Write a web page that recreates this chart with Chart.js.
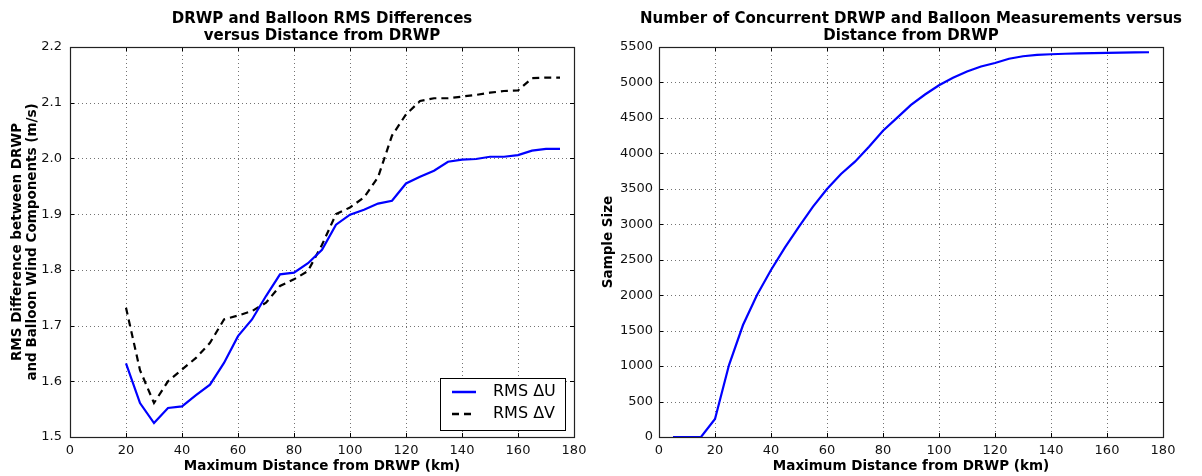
<!DOCTYPE html>
<html>
<head>
<meta charset="utf-8">
<script src="https://cdn.jsdelivr.net/npm/chart.js@4.4.0/dist/chart.umd.min.js"></script>
<style>
  html, body { margin: 0; padding: 0; background: #fff; }
  #wrap { position: relative; width: 1202px; height: 476px; overflow: hidden; }
  canvas { position: absolute; top: 0; }
</style>
</head>
<body>
<div id="wrap">
  <canvas id="left" width="600" height="476" style="left:0px"></canvas>
  <canvas id="right" width="602" height="476" style="left:600px"></canvas>
</div>
<script>
// ---- data ----
const distLeft = [20,25,30,35,40,45,50,55,60,65,70,75,80,85,90,95,100,105,110,115,120,125,130,135,140,145,150,155,160,165,170,175];
const rmsU = [1.632,1.561,1.525,1.552,1.555,1.575,1.594,1.633,1.681,1.711,1.753,1.792,1.795,1.812,1.836,1.881,1.899,1.908,1.919,1.924,1.955,1.967,1.978,1.994,1.998,1.999,2.003,2.003,2.006,2.014,2.017,2.017];
const rmsV = [1.732,1.620,1.561,1.600,1.621,1.642,1.669,1.711,1.718,1.726,1.741,1.771,1.783,1.798,1.845,1.900,1.912,1.930,1.966,2.041,2.079,2.103,2.108,2.108,2.111,2.114,2.118,2.121,2.122,2.144,2.145,2.145];

const distRight = [5,10,15,20,25,30,35,40,45,50,55,60,65,70,75,80,85,90,95,100,105,110,115,120,125,130,135,140,145,150,155,160,165,170,175];
const sampleSize = [0,0,0,254,1015,1579,2003,2355,2675,2966,3248,3497,3709,3883,4094,4320,4500,4684,4830,4960,5065,5155,5225,5275,5335,5370,5388,5398,5405,5410,5413,5418,5422,5425,5426];

const leftTitle = ["DRWP and Balloon RMS Differences", "versus Distance from DRWP"];
const rightTitle = ["Number of Concurrent DRWP and Balloon Measurements versus", "Distance from DRWP"];
const xAxisTitle = "Maximum Distance from DRWP (km)";
const leftYTitle = ["RMS Difference between DRWP", "and Balloon Wind Components (m/s)"];
const rightYTitle = "Sample Size";
const legendLabels = ["RMS \u0394U", "RMS \u0394V"];

const FONT = "'DejaVu Sans', sans-serif";

function pts(xs, ys) { return xs.map((x, i) => ({ x: x, y: ys[i] })); }

function decoPlugin(cfg) {
  return {
    id: 'deco',
    beforeDatasetsDraw(chart) {
      const { ctx, chartArea: a, scales } = chart;
      ctx.save();
      ctx.strokeStyle = 'rgba(0,0,0,0.55)';
      ctx.lineWidth = 1;
      ctx.setLineDash([1, 3]);
      scales.x.ticks.forEach(t => {
        const px = Math.round(scales.x.getPixelForValue(t.value)) + 0.5;
        ctx.beginPath(); ctx.moveTo(px, a.top); ctx.lineTo(px, a.bottom); ctx.stroke();
      });
      scales.y.ticks.forEach(t => {
        const py = Math.round(scales.y.getPixelForValue(t.value)) + 0.5;
        ctx.beginPath(); ctx.moveTo(a.left, py); ctx.lineTo(a.right, py); ctx.stroke();
      });
      ctx.restore();
    },
    afterDraw(chart) {
      const { ctx, chartArea: a, scales } = chart;
      ctx.save();
      // inward ticks
      ctx.strokeStyle = '#000';
      ctx.lineWidth = 1;
      ctx.setLineDash([]);
      scales.x.ticks.forEach(t => {
        const px = Math.round(scales.x.getPixelForValue(t.value)) + 0.5;
        ctx.beginPath(); ctx.moveTo(px, a.bottom); ctx.lineTo(px, a.bottom - 4);
        ctx.moveTo(px, a.top); ctx.lineTo(px, a.top + 4); ctx.stroke();
      });
      scales.y.ticks.forEach(t => {
        const py = Math.round(scales.y.getPixelForValue(t.value)) + 0.5;
        ctx.beginPath(); ctx.moveTo(a.left, py); ctx.lineTo(a.left + 4, py);
        ctx.moveTo(a.right, py); ctx.lineTo(a.right - 4, py); ctx.stroke();
      });
      // frame
      ctx.lineWidth = 1.2;
      ctx.strokeStyle = '#222';
      ctx.strokeRect(Math.round(a.left) + 0.5, Math.round(a.top) + 0.5, Math.round(a.right - a.left), Math.round(a.bottom - a.top));

      const cx = (a.left + a.right) / 2;
      ctx.fillStyle = '#000';
      // title
      ctx.font = "bold 15px " + FONT;
      ctx.textAlign = 'center';
      ctx.textBaseline = 'middle';
      ctx.fillText(cfg.title[0], cx, 19);
      ctx.fillText(cfg.title[1], cx, 36);
      // x axis title
      ctx.font = "bold 13.5px " + FONT;
      ctx.fillText(xAxisTitle, cx, 466);
      // y axis title
      const cy = (a.top + a.bottom) / 2;
      cfg.yTitle.forEach((line, i) => {
        ctx.save();
        ctx.translate(cfg.yTitleX[i], cy);
        ctx.rotate(-Math.PI / 2);
        ctx.fillText(line, 0, 0);
        ctx.restore();
      });
      // legend
      if (cfg.legend) {
        const L = cfg.legend;
        ctx.fillStyle = '#fff';
        ctx.fillRect(L.x, L.y, L.w, L.h);
        ctx.strokeStyle = '#000';
        ctx.lineWidth = 1;
        ctx.strokeRect(L.x + 0.5, L.y + 0.5, L.w, L.h);
        const rows = [
          { label: legendLabels[0], color: '#0000ff', dash: [] , y: L.y + 14 },
          { label: legendLabels[1], color: '#000000', dash: [7, 5], y: L.y + 36 }
        ];
        rows.forEach(r => {
          ctx.save();
          ctx.strokeStyle = r.color; ctx.lineWidth = 2.5; ctx.setLineDash(r.dash);
          ctx.beginPath(); ctx.moveTo(L.x + 12, r.y); ctx.lineTo(L.x + 36, r.y); ctx.stroke();
          ctx.restore();
          ctx.fillStyle = '#000';
          ctx.font = "16px " + FONT;
          ctx.textAlign = 'left';
          ctx.textBaseline = 'middle';
          ctx.fillText(r.label, L.x + 53, r.y);
        });
      }
      ctx.restore();
    }
  };
}

function xScale(fitH) {
  return {
    type: 'linear', min: 0, max: 180,
    grid: { display: false, drawTicks: false },
    border: { display: false },
    ticks: { stepSize: 20, color: '#111', font: { family: FONT, size: 13 }, padding: 6, maxRotation: 0,
             callback: v => String(v) },
    afterFit(s) { s.height = fitH; }
  };
}

// LEFT CHART
new Chart(document.getElementById('left'), {
  type: 'line',
  data: {
    datasets: [
      { label: legendLabels[0], data: pts(distLeft, rmsU), borderColor: '#0000ff', borderWidth: 2.2, pointRadius: 0, tension: 0, fill: false },
      { label: legendLabels[1], data: pts(distLeft, rmsV), borderColor: '#000000', borderWidth: 2.2, borderDash: [7, 5], pointRadius: 0, tension: 0, fill: false }
    ]
  },
  options: {
    responsive: false, animation: false, devicePixelRatio: 1,
    layout: { padding: { top: 47, right: 26, bottom: 0, left: 0 } },
    plugins: { legend: { display: false }, title: { display: false }, tooltip: { enabled: false } },
    scales: {
      x: xScale(39),
      y: {
        type: 'linear', min: 1.5, max: 2.2,
        grid: { display: false, drawTicks: false },
        border: { display: false },
        ticks: { stepSize: 0.1, color: '#111', font: { family: FONT, size: 13 }, padding: 8,
                 callback: v => v.toFixed(1) },
        afterFit(s) { s.width = 70; }
      }
    }
  },
  plugins: [decoPlugin({ title: leftTitle, yTitle: leftYTitle, yTitleX: [17, 32],
                         legend: { x: 440, y: 378, w: 125, h: 52 } })]
});

// RIGHT CHART
new Chart(document.getElementById('right'), {
  type: 'line',
  data: {
    datasets: [
      { label: 'Sample Size', data: pts(distRight, sampleSize), borderColor: '#0000ff', borderWidth: 2.2, pointRadius: 0, tension: 0, fill: false }
    ]
  },
  options: {
    responsive: false, animation: false, devicePixelRatio: 1,
    layout: { padding: { top: 47, right: 39, bottom: 0, left: 0 } },
    plugins: { legend: { display: false }, title: { display: false }, tooltip: { enabled: false } },
    scales: {
      x: xScale(39),
      y: {
        type: 'linear', min: 0, max: 5500,
        grid: { display: false, drawTicks: false },
        border: { display: false },
        ticks: { stepSize: 500, color: '#111', font: { family: FONT, size: 13 }, padding: 6,
                 callback: v => String(v) },
        afterFit(s) { s.width = 59; }
      }
    }
  },
  plugins: [decoPlugin({ title: rightTitle, yTitle: [rightYTitle], yTitleX: [8], legend: null })]
});
</script>
</body>
</html>
